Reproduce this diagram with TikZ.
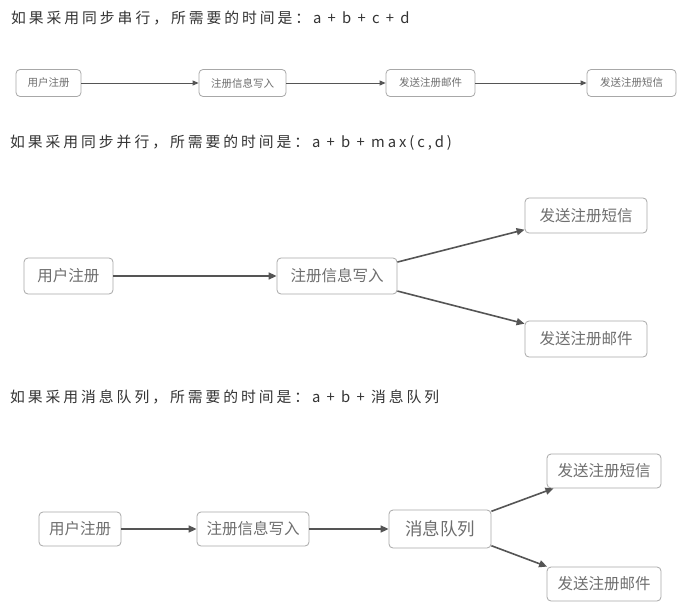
\documentclass[tikz,border=0pt]{standalone}
\usepackage{fontspec}
\newfontfamily\cjk{Noto Sans CJK SC}
\newfontfamily\cjktitle[LetterSpace=20]{Noto Sans CJK SC}
\usetikzlibrary{arrows.meta}
\definecolor{boxgray}{HTML}{A8A8A8}
\definecolor{txtgray}{HTML}{6E6E6E}
\definecolor{linegray}{HTML}{555555}
\definecolor{titlegray}{HTML}{333333}
\tikzset{
  box/.style={draw=boxgray, line width=0.8pt, rounded corners=4pt, text=txtgray, inner sep=0pt},
  smallbox/.style={box, minimum height=27pt, font=\fontsize{10.5}{10.5}\selectfont\cjk},
  bigbox/.style={box, minimum height=35pt, font=\fontsize{15.5}{15.5}\selectfont\cjk},
  title/.style={anchor=west, text=titlegray, inner sep=0pt, font=\fontsize{14.8}{14.8}\selectfont\cjktitle},
  thinlink/.style={draw=linegray, line width=1pt, -{Triangle[length=6pt,width=5pt]}},
  link/.style={draw=linegray, line width=1.6pt, -{Triangle[length=8pt,width=7pt]}}
}
\begin{document}
\begin{tikzpicture}[x=1pt,y=-1pt]
                    \fill[white] (0,0) rectangle (678,616);
                    \useasboundingbox (0,0) rectangle (678,616);
                    \node[title] (t1) at (11,18) {如果采用同步串行，所需要的时间是：a + b + c + d};
                    \node[smallbox, minimum width=65pt] (a1) at (48.5,83) {用户注册};
                    \node[smallbox, minimum width=87pt] (b1) at (242.5,83) {注册信息写入};
                    \node[smallbox, minimum width=89pt] (c1) at (430.5,83) {发送注册邮件};
                    \node[smallbox, minimum width=89pt] (d1) at (631.5,83) {发送注册短信};
                    \draw[thinlink] (a1) -- (b1);
                    \draw[thinlink] (b1) -- (c1);
                    \draw[thinlink] (c1) -- (d1);
                    \node[title] (t2) at (10,143) {如果采用同步并行，所需要的时间是：a + b + max(c,d)};
                    \node[bigbox, minimum width=89pt, minimum height=36pt] (a2) at (68.5,276) {用户注册};
                    \node[bigbox, minimum width=120pt, minimum height=36pt] (b2) at (337,276) {注册信息写入};
                    \node[bigbox, minimum width=122pt] (c2) at (586,215.5) {发送注册短信};
                    \node[bigbox, minimum width=122pt, minimum height=36pt] (d2) at (586,339) {发送注册邮件};
                    \draw[link] (a2) -- (b2);
                    \draw[link] (b2.13) -- (c2.193);
                    \draw[link] (b2.346) -- (d2.166);
                    \node[title] (t3) at (10,397) {如果采用消息队列，所需要的时间是：a + b + 消息队列};
                    \node[bigbox, minimum width=82pt, minimum height=34pt] (a3) at (80,529) {用户注册};
                    \node[bigbox, minimum width=112pt, minimum height=34pt] (b3) at (253,529) {注册信息写入};
                    \node[bigbox, minimum width=102pt, minimum height=38pt, font=\fontsize{17.5}{17.5}\selectfont\cjk] (m3) at (440,529) {消息队列};
                    \node[bigbox, minimum width=114pt, minimum height=34pt] (c3) at (604,471) {发送注册短信};
                    \node[bigbox, minimum width=114pt, minimum height=34pt] (d3) at (604,584) {发送注册邮件};
                    \draw[link] (a3) -- (b3);
                    \draw[link] (b3) -- (m3);
                    \draw[link] (m3.19) -- (c3.199);
                    \draw[link] (m3.342) -- (d3.163);
                \end{tikzpicture}
\end{document}
